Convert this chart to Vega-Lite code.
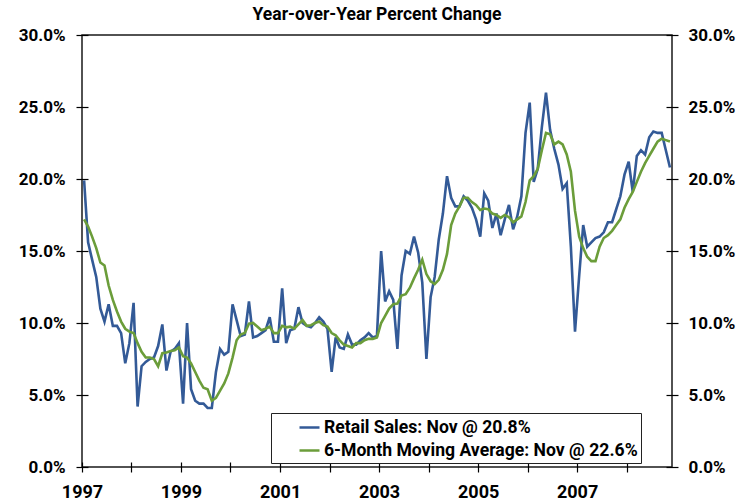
{
  "$schema": "https://vega.github.io/schema/vega-lite/v6.json",
  "width": 590,
  "height": 432,
  "autosize": {"type": "none"},
  "padding": {"left": 82, "top": 35, "right": 76, "bottom": 37},
  "background": "white",
  "title": {"text": "Year-over-Year Percent Change", "font": "Roboto", "fontSize": 17.5, "fontWeight": "bold", "color": "black", "offset": 3, "anchor": "middle"},
  "config": {
    "view": {"stroke": "#1a1a1a", "strokeWidth": 1.5},
    "axis": {"domain": false, "grid": false, "ticks": true, "tickColor": "black", "tickWidth": 1.2, "labelFont": "Roboto", "labelFontWeight": "bold", "labelFontSize": 17, "labelColor": "black"}
  },
  "data": {
    "format": {"parse": {"d": "utc:'%Y-%m'"}},
    "values": [
      {"d":"1997-01","r":19.9,"m":17.2},{"d":"1997-02","r":15.6,"m":16.7},{"d":"1997-03","r":14.4,"m":16.0},{"d":"1997-04","r":13.2,"m":15.2},{"d":"1997-05","r":11.0,"m":14.2},{"d":"1997-06","r":10.1,"m":14.0},{"d":"1997-07","r":11.3,"m":12.6},{"d":"1997-08","r":9.8,"m":11.6},{"d":"1997-09","r":9.8,"m":10.8},{"d":"1997-10","r":9.3,"m":10.1},{"d":"1997-11","r":7.2,"m":9.6},{"d":"1997-12","r":8.6,"m":9.4},
      {"d":"1998-01","r":11.4,"m":9.3},{"d":"1998-02","r":4.2,"m":8.6},{"d":"1998-03","r":7.0,"m":8.0},{"d":"1998-04","r":7.3,"m":7.6},{"d":"1998-05","r":7.5,"m":7.6},{"d":"1998-06","r":7.6,"m":7.5},{"d":"1998-07","r":8.4,"m":7.0},{"d":"1998-08","r":9.9,"m":7.9},{"d":"1998-09","r":6.7,"m":7.95},{"d":"1998-10","r":8.0,"m":8.05},{"d":"1998-11","r":8.2,"m":8.1},{"d":"1998-12","r":8.6,"m":8.3},
      {"d":"1999-01","r":4.4,"m":7.7},{"d":"1999-02","r":10.0,"m":7.6},{"d":"1999-03","r":5.4,"m":7.2},{"d":"1999-04","r":4.6,"m":6.6},{"d":"1999-05","r":4.4,"m":6.0},{"d":"1999-06","r":4.4,"m":5.5},{"d":"1999-07","r":4.1,"m":5.4},{"d":"1999-08","r":4.1,"m":4.6},{"d":"1999-09","r":6.6,"m":4.8},{"d":"1999-10","r":8.2,"m":5.3},{"d":"1999-11","r":7.8,"m":5.8},{"d":"1999-12","r":8.0,"m":6.5},
      {"d":"2000-01","r":11.3,"m":7.6},{"d":"2000-02","r":10.2,"m":8.8},{"d":"2000-03","r":9.1,"m":9.2},{"d":"2000-04","r":9.2,"m":9.3},{"d":"2000-05","r":11.5,"m":9.95},{"d":"2000-06","r":9.0,"m":10.0},{"d":"2000-07","r":9.1,"m":9.75},{"d":"2000-08","r":9.3,"m":9.5},{"d":"2000-09","r":9.5,"m":9.6},{"d":"2000-10","r":10.4,"m":9.75},{"d":"2000-11","r":8.7,"m":9.3},{"d":"2000-12","r":8.7,"m":9.3},
      {"d":"2001-01","r":12.4,"m":9.8},{"d":"2001-02","r":8.6,"m":9.7},{"d":"2001-03","r":9.5,"m":9.75},{"d":"2001-04","r":9.6,"m":9.6},{"d":"2001-05","r":11.1,"m":9.9},{"d":"2001-06","r":10.0,"m":10.2},{"d":"2001-07","r":9.8,"m":9.8},{"d":"2001-08","r":9.7,"m":9.85},{"d":"2001-09","r":10.0,"m":10.0},{"d":"2001-10","r":10.4,"m":10.1},{"d":"2001-11","r":10.1,"m":9.85},{"d":"2001-12","r":9.6,"m":9.75},
      {"d":"2002-01","r":6.6,"m":9.3},{"d":"2002-02","r":9.0,"m":9.15},{"d":"2002-03","r":8.3,"m":8.8},{"d":"2002-04","r":8.2,"m":8.5},{"d":"2002-05","r":9.2,"m":8.4},{"d":"2002-06","r":8.5,"m":8.3},{"d":"2002-07","r":8.5,"m":8.6},{"d":"2002-08","r":8.8,"m":8.6},{"d":"2002-09","r":9.0,"m":8.8},{"d":"2002-10","r":9.3,"m":8.9},{"d":"2002-11","r":9.0,"m":8.9},{"d":"2002-12","r":9.1,"m":9.0},
      {"d":"2003-01","r":15.0,"m":10.0},{"d":"2003-02","r":11.5,"m":10.5},{"d":"2003-03","r":12.2,"m":11.0},{"d":"2003-04","r":11.6,"m":11.3},{"d":"2003-05","r":8.2,"m":11.35},{"d":"2003-06","r":13.3,"m":11.9},{"d":"2003-07","r":15.0,"m":12.0},{"d":"2003-08","r":14.8,"m":12.45},{"d":"2003-09","r":16.0,"m":13.1},{"d":"2003-10","r":14.9,"m":13.7},{"d":"2003-11","r":12.8,"m":14.4},{"d":"2003-12","r":7.5,"m":13.4},
      {"d":"2004-01","r":11.8,"m":12.9},{"d":"2004-02","r":13.2,"m":12.7},{"d":"2004-03","r":15.8,"m":13.0},{"d":"2004-04","r":17.6,"m":13.7},{"d":"2004-05","r":20.2,"m":14.8},{"d":"2004-06","r":18.7,"m":16.8},{"d":"2004-07","r":18.1,"m":17.6},{"d":"2004-08","r":18.1,"m":18.1},{"d":"2004-09","r":18.8,"m":18.7},{"d":"2004-10","r":18.5,"m":18.7},{"d":"2004-11","r":18.0,"m":18.4},{"d":"2004-12","r":17.2,"m":18.2},
      {"d":"2005-01","r":16.0,"m":17.85},{"d":"2005-02","r":19.0,"m":17.95},{"d":"2005-03","r":18.5,"m":17.9},{"d":"2005-04","r":16.6,"m":17.6},{"d":"2005-05","r":17.6,"m":17.5},{"d":"2005-06","r":16.1,"m":17.3},{"d":"2005-07","r":17.2,"m":17.5},{"d":"2005-08","r":18.2,"m":17.35},{"d":"2005-09","r":16.5,"m":17.0},{"d":"2005-10","r":17.4,"m":17.2},{"d":"2005-11","r":18.8,"m":17.4},{"d":"2005-12","r":23.2,"m":18.4},
      {"d":"2006-01","r":25.3,"m":19.9},{"d":"2006-02","r":19.8,"m":20.2},{"d":"2006-03","r":20.7,"m":20.7},{"d":"2006-04","r":23.6,"m":22.0},{"d":"2006-05","r":26.0,"m":23.2},{"d":"2006-06","r":23.4,"m":23.1},{"d":"2006-07","r":22.1,"m":22.4},{"d":"2006-08","r":21.0,"m":22.6},{"d":"2006-09","r":19.3,"m":22.4},{"d":"2006-10","r":19.7,"m":21.7},{"d":"2006-11","r":15.3,"m":20.5},{"d":"2006-12","r":9.4,"m":17.8},
      {"d":"2007-01","r":13.3,"m":16.0},{"d":"2007-02","r":16.8,"m":15.2},{"d":"2007-03","r":15.3,"m":14.6},{"d":"2007-04","r":15.6,"m":14.3},{"d":"2007-05","r":15.9,"m":14.3},{"d":"2007-06","r":16.0,"m":15.3},{"d":"2007-07","r":16.3,"m":15.9},{"d":"2007-08","r":17.0,"m":16.1},{"d":"2007-09","r":17.0,"m":16.4},{"d":"2007-10","r":17.9,"m":16.8},{"d":"2007-11","r":18.8,"m":17.2},{"d":"2007-12","r":20.3,"m":18.0},
      {"d":"2008-01","r":21.2,"m":18.6},{"d":"2008-02","r":19.1,"m":19.1},{"d":"2008-03","r":21.6,"m":19.8},{"d":"2008-04","r":22.0,"m":20.5},{"d":"2008-05","r":21.7,"m":21.1},{"d":"2008-06","r":22.9,"m":21.6},{"d":"2008-07","r":23.3,"m":22.1},{"d":"2008-08","r":23.2,"m":22.6},{"d":"2008-09","r":23.2,"m":22.8},{"d":"2008-10","r":22.0,"m":22.7},{"d":"2008-11","r":20.8,"m":22.6}
    ]
  },
  "transform": [{"fold": ["r", "m"], "as": ["s", "v"]}],
  "encoding": {
    "x": {
      "field": "d", "timeUnit": "utcyearmonth", "type": "temporal", "bandPosition": 0.5,
      "scale": {"domain": [{"year": 1997, "month": 1, "date": 1, "utc": true}, {"year": 2008, "month": 12, "date": 1, "utc": true}], "nice": false},
      "axis": {
        "title": null, "orient": "bottom", "offset": -5, "tickSize": 10, "labelPadding": 11, "labelFontSize": 18,
        "values": [{"year":1997,"utc":true},{"year":1998,"utc":true},{"year":1999,"utc":true},{"year":2000,"utc":true},{"year":2001,"utc":true},{"year":2002,"utc":true},{"year":2003,"utc":true},{"year":2004,"utc":true},{"year":2005,"utc":true},{"year":2006,"utc":true},{"year":2007,"utc":true},{"year":2008,"utc":true}],
        "labelExpr": "utcyear(datum.value) % 2 == 1 ? '' + utcyear(datum.value) : ''",
        "labelOverlap": false, "labelFlush": false
      }
    }
  },
  "layer": [
    {
      "mark": {"type": "line", "strokeWidth": 2.6},
      "encoding": {
        "y": {"field": "v", "type": "quantitative", "scale": {"domain": [0, 30], "nice": false},
          "axis": {"title": null, "orient": "left", "offset": -6, "tickSize": 12, "labelPadding": 11, "values": [0, 5, 10, 15, 20, 25, 30], "labelExpr": "format(datum.value, '.1f') + '%'"}},
        "color": {"field": "s", "type": "nominal",
          "scale": {"domain": ["r", "m"], "range": ["#335A97", "#6B9D3A"]},
          "legend": {"orient": "none", "legendX": 189, "legendY": 378, "title": null, "strokeColor": "#222", "fillColor": "white", "padding": 3,
            "symbolType": "stroke", "symbolSize": 400, "symbolStrokeWidth": 2.5, "symbolOffset": 24, "labelOffset": 3, "rowPadding": 2,
            "labelFont": "Roboto", "labelFontWeight": "bold", "labelFontSize": 17.6, "labelColor": "black", "labelLimit": 600,
            "labelExpr": "datum.value == 'r' ? 'Retail Sales: Nov @ 20.8%' : '6-Month Moving Average: Nov @ 22.6%'"}}
      }
    },
    {
      "mark": {"type": "line", "strokeOpacity": 0},
      "encoding": {
        "y": {"field": "v", "type": "quantitative", "scale": {"domain": [0, 30], "nice": false},
          "axis": {"title": null, "orient": "right", "offset": -6, "tickSize": 12, "labelPadding": 10, "values": [0, 5, 10, 15, 20, 25, 30], "labelExpr": "format(datum.value, '.1f') + '%'"}},
        "detail": {"field": "s"}
      }
    }
  ],
  "resolve": {"scale": {"y": "shared"}, "axis": {"y": "independent"}}
}
